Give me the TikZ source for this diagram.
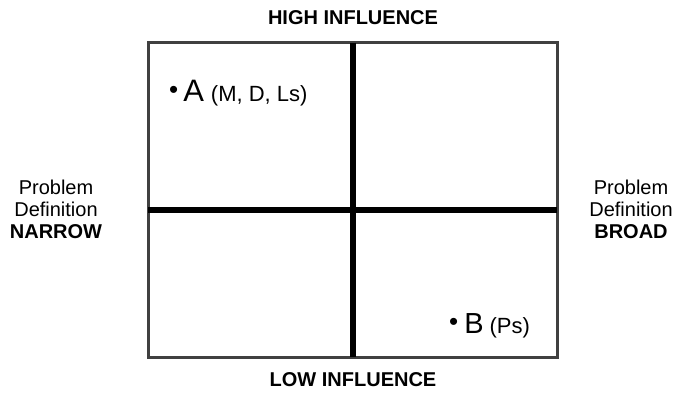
\documentclass[tikz,border=0pt]{standalone}
\usepackage{fontspec}
\setmainfont{Liberation Sans}
\begin{document}
\begin{tikzpicture}[x=1pt,y=-1pt,
  frame/.style={draw=black!75,line width=3pt},
  divider/.style={draw=black,line width=6pt},
  lab/.style={font=\fontsize{20}{22}\selectfont,align=center},
  blab/.style={font=\fontsize{20}{22}\selectfont\bfseries},
  pt/.style={anchor=base west,inner sep=0pt}]
\useasboundingbox (0,0) rectangle (679,409);
\coordinate (tl) at (148,43);
\coordinate (br) at (557,357);
\draw[frame] (tl) rectangle (br);
\coordinate (vt) at (353,43);
\coordinate (vb) at (353,357);
\coordinate (hl) at (148,210);
\coordinate (hr) at (557,210);
\draw[divider] (vt) -- (vb);
\draw[divider] (hl) -- (hr);
\node[blab] (high) at (353,18) {HIGH INFLUENCE};
\node[blab] (low) at (353,380) {LOW INFLUENCE};
\node[lab] (narrow) at (56,209) {Problem\\Definition\\\textbf{NARROW}};
\node[lab] (broad) at (631,209) {Problem\\Definition\\\textbf{BROAD}};
\node[pt] (a) at (169,102) {\fontsize{26}{28}\selectfont\raisebox{3pt}{\textbullet}\hspace{5pt}\fontsize{31}{34}\selectfont A\hspace{7pt}\fontsize{22}{26}\selectfont(M, D, Ls)};
\node[pt] (b) at (449,333) {\fontsize{26}{28}\selectfont\raisebox{3pt}{\textbullet}\hspace{6pt}\fontsize{29}{32}\selectfont B\hspace{6pt}\fontsize{22}{26}\selectfont(Ps)};
\end{tikzpicture}
\end{document}
